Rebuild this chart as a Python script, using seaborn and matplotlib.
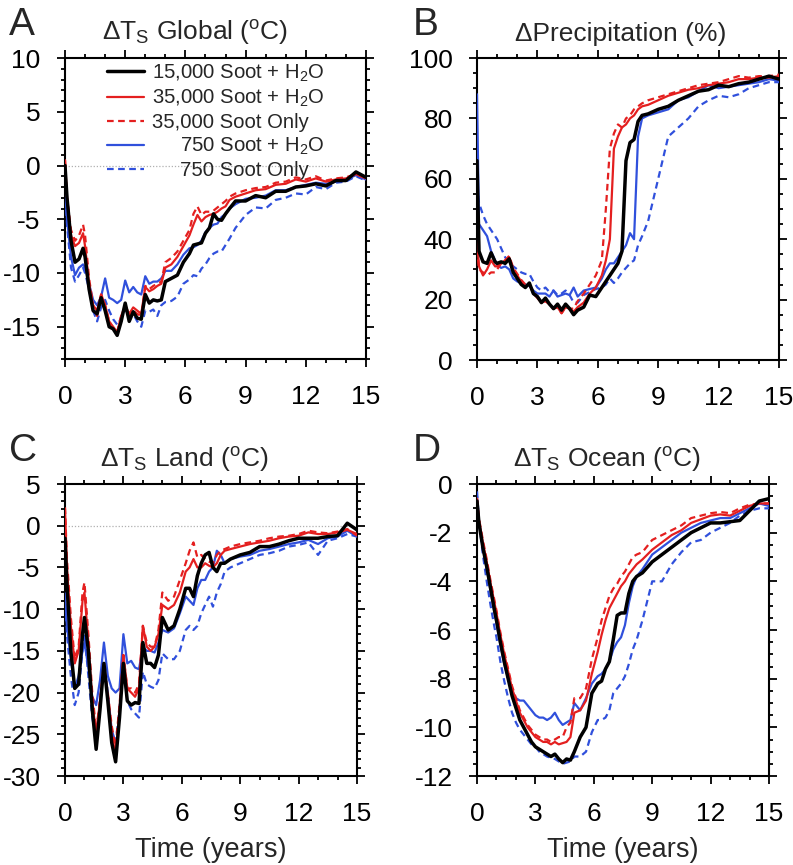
import matplotlib
matplotlib.use("Agg")
import matplotlib.pyplot as plt
import seaborn as sns
from matplotlib.ticker import MultipleLocator

# ---------------- data ----------------
years = [0, 0.1, 0.3, 0.5, 0.7, 0.9, 1.0,
         1.2, 1.4, 1.6, 1.8, 2.0, 2.2, 2.4, 2.6, 2.8,
         3.0, 3.2, 3.4, 3.6, 3.8, 4.0, 4.2, 4.4, 4.6, 4.8,
         5.0, 5.3, 5.6, 5.9,
         6.2, 6.4, 6.6, 6.8, 7.0, 7.2, 7.4, 7.6, 7.8, 8.0, 8.2, 8.5,
         9.0, 9.5, 10.0, 10.5, 11.0, 11.5, 12.0, 12.5, 13.0, 13.5, 14.0, 14.5, 15.0]

run_labels = ["15,000 Soot + H$_2$O", "35,000 Soot + H$_2$O", "35,000 Soot Only",
              "\u2007\u2007\u2008750 Soot + H$_2$O", "\u2007\u2007\u2008750 Soot Only"]

# Panel A: global surface temperature change (deg C)
glob_15k = [0.0, -3.0, -7.0, -9.0, -8.7, -7.7, -8.5,
            -11.5, -13.5, -13.8, -12.3, -13.5, -15.0, -15.2, -15.8, -14.5,
            -12.8, -14.5, -13.6, -14.2, -14.3, -12.0, -12.8, -12.5, -12.6, -12.5,
            -10.8, -10.5, -10.2, -9.0,
            -8.2, -7.4, -7.3, -7.2, -6.3, -5.8, -4.5, -5.0, -5.1, -4.5, -4.0, -3.3,
            -3.3, -2.8, -3.0, -2.4, -2.4, -2.0, -1.9, -1.7, -1.9, -1.4, -1.4, -0.6, -1.1]
glob_35k = [0.5, -3.0, -6.5, -7.5, -7.2, -6.3, -7.5,
            -11.0, -13.0, -13.5, -12.0, -13.0, -14.5, -15.0, -15.5, -14.0,
            -13.0, -13.8, -13.2, -13.5, -13.8, -11.3, -11.7, -11.5, -11.2, -11.0,
            -9.5, -9.2, -8.5, -7.5,
            -6.5, -5.5, -4.6, -5.2, -4.8, -4.6, -4.5, -4.3, -4.0, -3.8, -3.2, -2.9,
            -2.6, -2.3, -2.2, -1.8, -1.7, -1.3, -1.5, -1.2, -1.5, -1.3, -1.2, -0.8, -1.2]
glob_35k_only = [0.5, -3.0, -6.0, -7.0, -6.5, -5.5, -6.5,
                 -10.5, -13.0, -14.0, -12.0, -13.0, -14.5, -15.2, -15.5, -14.0,
                 -13.2, -14.0, -13.5, -13.8, -14.0, -11.2, -11.5, -11.2, -11.0, -10.8,
                 -9.0, -8.6, -8.0, -7.0,
                 -6.0, -4.5, -3.8, -4.6, -4.3, -4.3, -4.2, -3.9, -3.6, -3.3, -2.9, -2.6,
                 -2.3, -2.1, -2.0, -1.6, -1.5, -1.1, -1.3, -1.0, -1.4, -1.2, -1.1, -0.8, -1.2]
glob_750 = [-2.0, -5.0, -8.5, -10.2, -9.5, -9.2, -9.5,
            -11.0, -12.5, -13.0, -12.2, -10.5, -12.3, -12.5, -12.8, -12.5,
            -10.7, -11.8, -11.3, -11.8, -12.0, -10.3, -11.0, -10.8, -10.8, -10.5,
            -9.8, -9.8, -9.2, -8.3,
            -7.7, -7.6, -7.4, -7.0, -6.2, -5.8, -5.5, -5.4, -4.8, -4.5, -4.0, -3.6,
            -3.1, -3.0, -2.8, -2.3, -2.3, -2.0, -1.8, -1.6, -1.7, -1.5, -1.3, -0.9, -1.3]
glob_750_only = [-2.0, -5.5, -9.5, -10.8, -10.2, -9.5, -10.0,
                 -11.5, -13.5, -14.5, -13.2, -12.5, -13.5, -14.3, -14.8, -14.2,
                 -13.3, -14.2, -13.8, -14.5, -15.0, -13.5, -13.6, -13.4, -14.0, -13.0,
                 -12.7, -12.6, -12.2, -11.0,
                 -10.6, -10.2, -10.3, -9.6, -9.2, -8.6, -8.2, -8.0, -8.0, -7.4, -6.8, -5.8,
                 -4.6, -3.9, -4.0, -3.2, -3.0, -2.6, -2.7, -2.0, -2.2, -1.6, -1.5, -1.0, -1.4]

# Panel B: precipitation change (%)
prec_15k = [66, 36, 32.5, 32, 35.5, 32.5, 32,
            32.5, 32, 33.5, 29, 27, 25, 24, 25.5, 22,
            21, 19, 20.5, 18.5, 17, 18.5, 16.5, 18.5, 17, 15,
            16.5, 17.5, 21.5, 21,
            24, 26, 28, 30, 32, 36, 66, 72, 73, 79, 81, 81.5,
            83, 84, 86, 87.5, 89, 89.5, 91, 90.5, 91.5, 92, 93, 94, 93]
prec_35k = [40, 31, 28, 30, 33, 31, 31,
            32, 33, 34, 30, 28, 26, 24.5, 25, 22,
            20.5, 19, 19.5, 18.5, 17, 17.5, 15.5, 17.5, 17, 16,
            17.5, 19, 22, 24,
            28, 33, 40, 70, 74, 77, 78, 80, 81, 83, 84, 84.5,
            86, 87.5, 88.5, 89.5, 90, 91, 91.5, 92, 93, 93, 93.5, 93.5, 94]
prec_35k_only = [37, 30, 29, 28, 29, 29, 30,
                 32, 33, 34.5, 30.5, 28.5, 26.5, 25, 25, 22.5,
                 21, 19.5, 19.5, 18.5, 17, 17.5, 15.5, 17.5, 17, 17,
                 19.5, 22, 25, 28,
                 33, 50, 70, 75, 78, 77, 80, 81, 83, 84, 85, 86,
                 87, 88, 89, 90, 91, 91.5, 92, 93, 94, 93.5, 94, 94, 94.5]
prec_750 = [88, 45, 43, 41, 36, 33, 31.5,
            30.5, 31, 30, 27, 26, 25.5, 25, 24.5, 23,
            22, 22, 22, 21, 23, 21, 21.5, 22, 21.5, 24,
            21, 23, 23.5, 24,
            27, 30, 32, 32, 34, 36, 38, 42, 40, 74, 80, 81,
            82, 83, 86, 87, 89, 91, 90, 90.5, 91, 91.5, 92, 93, 92.5]
prec_750_only = [58, 52, 48, 45, 43, 41, 40,
                 37, 34, 32, 31, 30, 29, 28.5, 28.5, 26,
                 24, 23, 24, 22.5, 23, 21.5, 22, 23, 21.5, 19,
                 19, 21.5, 22.5, 23.5,
                 24, 25, 27, 25.5, 27, 29, 30.5, 32, 33, 38, 41, 46,
                 60, 74, 77, 80, 84, 86, 87.5, 87, 88, 90, 91, 92, 92]

# Panel C: land surface temperature change (deg C)
land_15k = [-1.5, -7, -15, -19.5, -19, -13, -11,
            -15, -22, -26.8, -22, -16.5, -21, -26, -28.3, -23,
            -16.5, -21, -21.5, -21.2, -21.3, -14, -16.5, -16.5, -17, -15.5,
            -11, -12.5, -12, -10,
            -7.5, -7.5, -8.5, -6, -4.5, -3.5, -3.2, -5, -5.5, -4.5, -4.5, -4,
            -3.5, -3.2, -2.5, -2.5, -2.2, -1.8, -1.5, -1.5, -1.5, -1.3, -1.2, 0.3, -0.5]
land_35k = [2, -5, -12, -16.5, -15, -9, -8,
            -14, -21, -25, -21, -16.5, -20.5, -25, -27.5, -22,
            -15.5, -19.5, -20, -20.5, -19.5, -12, -14.5, -15, -14.5, -13,
            -9.5, -10, -9.5, -8,
            -5.5, -5, -4, -5, -5, -4.5, -4.8, -5, -4.5, -3.5, -3, -2.8,
            -2.5, -2.2, -2, -1.8, -1.5, -1.3, -1.2, -0.8, -1.0, -1.0, -0.8, -0.5, -1.0]
land_35k_only = [2.2, -4, -11, -16, -14.5, -8, -6.8,
                 -13, -20, -24.5, -21, -17, -20, -24, -26.5, -21.5,
                 -15.5, -19.5, -19.5, -20, -19, -12, -14, -14.5, -14.5, -12.5,
                 -8, -9, -8.5, -6.5,
                 -4.5, -3, -2, -3.8, -3.5, -4, -4.3, -4.5, -3.5, -3, -2.8, -2.5,
                 -2.2, -2, -1.8, -1.5, -1.3, -1.2, -1.0, -0.6, -0.8, -0.9, -0.7, -0.4, -1.2]
land_750 = [-8.5, -12, -16, -19.5, -18, -15, -14,
            -17, -20.5, -21.5, -18.5, -14, -18, -19.5, -20, -19.5,
            -13, -16.5, -16.2, -17, -17.2, -14.5, -15, -15, -15.2, -14,
            -12.5, -12.8, -12.3, -10.5,
            -8.5, -9, -9.5, -7.5, -6.5, -6.5, -5.5, -5, -3, -3.5, -4.5, -4,
            -3.7, -3.5, -3, -2.8, -2.5, -2.2, -2, -1.7, -2.2, -1.5, -1.3, -0.6, -1.3]
land_750_only = [-8, -13, -18, -21.5, -20, -15, -13,
                 -18, -23, -25.5, -21, -16.5, -20, -24.5, -26, -22,
                 -16.5, -21, -22, -22.5, -23, -17.5, -19, -19.3, -19.5, -18.5,
                 -15.3, -16, -16, -15,
                 -12.5, -12, -12.5, -12, -10.5, -9.5, -8.5, -9.7, -8, -7, -5.5, -5,
                 -4.5, -4, -3.5, -3.3, -3, -2.5, -2.3, -2, -3.5, -1.8, -1.5, -1, -1.3]

# Panel D: ocean surface temperature change (deg C)
ocean_15k = [-0.7, -1.6, -2.6, -3.4, -4.3, -5.2, -5.6,
             -6.5, -7.3, -8.0, -8.7, -9.2, -9.7, -10.0, -10.3, -10.6,
             -10.8, -10.9, -11.0, -11.1, -11.2, -11.1, -11.3, -11.45, -11.3, -11.35,
             -11.0, -10.4, -10.0, -8.6,
             -8.2, -8.1, -7.6, -7.3, -6.4, -5.4, -5.3, -5.3, -4.5, -4.0, -3.8, -3.65,
             -3.2, -2.9, -2.6, -2.3, -2.0, -1.8, -1.6, -1.6, -1.55, -1.5, -1.1, -0.7, -0.6]
ocean_35k = [-0.6, -1.5, -2.4, -3.2, -4.1, -4.9, -5.3,
             -6.2, -7.0, -7.7, -8.4, -8.9, -9.4, -9.7, -10.0, -10.2,
             -10.4, -10.5, -10.6, -10.6, -10.7, -10.6, -10.7, -10.65, -10.6, -10.4,
             -9.4, -9.3, -8.9, -7.8,
             -6.9, -6.2, -5.6, -5.1, -4.8, -4.5, -4.2, -4.0, -3.7, -3.5, -3.3, -3.1,
             -2.7, -2.4, -2.1, -1.9, -1.6, -1.45, -1.3, -1.25, -1.3, -1.1, -0.9, -0.8, -0.8]
ocean_35k_only = [-0.6, -1.4, -2.3, -3.1, -4.0, -4.8, -5.2,
                  -6.1, -6.9, -7.6, -8.3, -8.8, -9.3, -9.6, -9.9, -10.1,
                  -10.3, -10.4, -10.5, -10.5, -10.6, -10.5, -10.4, -10.4, -10.0, -9.8,
                  -8.8, -8.8, -8.4, -7.2,
                  -6.3, -5.6, -5.1, -4.6, -4.3, -4.1, -3.8, -3.6, -3.3, -3.0, -2.9, -2.8,
                  -2.3, -2.1, -1.9, -1.7, -1.4, -1.3, -1.2, -1.15, -1.2, -1.0, -0.85, -0.8, -0.8]
ocean_750 = [-0.5, -1.5, -2.6, -3.5, -4.4, -5.3, -5.7,
             -6.6, -7.4, -8.0, -8.5, -8.8, -8.9, -8.9, -9.1, -9.3,
             -9.5, -9.6, -9.6, -9.7, -9.6, -9.4, -9.7, -9.9, -9.8, -9.7,
             -9.0, -9.3, -8.8, -8.2,
             -7.9, -7.8, -7.6, -7.3, -6.8, -6.5, -6.3, -5.8, -4.9, -4.2, -3.8, -3.5,
             -2.9, -2.6, -2.3, -2.0, -1.8, -1.6, -1.5, -1.4, -1.4, -1.2, -1.0, -0.8, -0.9]
ocean_750_only = [-0.3, -1.5, -2.9, -4.0, -5.0, -5.9, -6.3,
                  -7.3, -8.1, -8.8, -9.4, -9.8, -10.1, -10.3, -10.5, -10.7,
                  -10.8, -11.0, -11.1, -11.2, -11.25, -11.3, -11.4, -11.5, -11.45, -11.4,
                  -11.2, -11.2, -11.0, -10.2,
                  -9.7, -9.7, -9.6, -9.3, -8.6, -8.4, -8.2, -7.9, -7.4, -6.8, -6.4, -5.6,
                  -4.0, -4.0, -3.3, -2.8, -2.4, -2.3, -2.0, -1.8, -1.6, -1.3, -1.1, -1.0, -1.0]

panel_letters = ["A", "B", "C", "D"]
panel_titles = ["\u0394T$_{\\mathrm{S}}$ Global ($^{\\mathrm{o}}$C)",
                "\u0394Precipitation (%)",
                "\u0394T$_{\\mathrm{S}}$ Land ($^{\\mathrm{o}}$C)",
                "\u0394T$_{\\mathrm{S}}$ Ocean ($^{\\mathrm{o}}$C)"]
x_ticks = [0, 3, 6, 9, 12, 15]
panel_data = [
    [glob_15k, glob_35k, glob_35k_only, glob_750, glob_750_only],
    [prec_15k, prec_35k, prec_35k_only, prec_750, prec_750_only],
    [land_15k, land_35k, land_35k_only, land_750, land_750_only],
    [ocean_15k, ocean_35k, ocean_35k_only, ocean_750, ocean_750_only],
]
y_limits = [(-18, 10), (0, 100), (-30, 5), (-12, 0)]
y_major = [5, 20, 5, 2]
y_minor = [1, 5, 1, 0.5]

# ---------------- style ----------------
sns.set_theme(style="ticks")
plt.rcParams["font.family"] = ["Liberation Sans", "DejaVu Sans"]
plt.rcParams["mathtext.fontset"] = "custom"
plt.rcParams["mathtext.rm"] = "Liberation Sans"
plt.rcParams["mathtext.it"] = "Liberation Sans:italic"
plt.rcParams["mathtext.bf"] = "Liberation Sans:bold"
plt.rcParams["axes.unicode_minus"] = False

RED = "#e41f1f"
BLUE = "#3050dc"
colors = ["black", RED, RED, BLUE, BLUE]
widths = [2.5, 1.6, 1.6, 1.6, 1.6]
styles = ["-", "-", (0, (3, 2)), "-", (0, (3, 2))]
draw_order = [4, 3, 2, 1, 0]

W, H = 793, 865
fig = plt.figure(figsize=(W / 100, H / 100), dpi=100)

# axes boxes in pixels: left, top, right, bottom
boxes = [(65, 58, 366, 359), (477, 58, 779, 360), (65, 484, 357, 776), (477, 484, 769, 776)]
title_pos = [(102, 40), (515, 41), (100, 467), (513, 467)]
letter_pos = [(9, 35), (413, 35), (9, 461), (413, 461)]

axes = []
for i, (l, t, r, b) in enumerate(boxes):
    ax = fig.add_axes([l / W, 1 - b / H, (r - l) / W, (b - t) / H])
    axes.append(ax)
    if i in (0, 2):
        ax.axhline(0, color="#b0b0b0", lw=0.9, ls=(0, (1, 1.5)), zorder=1)
    handles = {}
    for k in draw_order:
        sns.lineplot(x=years, y=panel_data[i][k], ax=ax, color=colors[k],
                     linewidth=widths[k], linestyle=styles[k], label=run_labels[k],
                     legend=False, zorder=3 + (5 - k))
        handles[k] = ax.get_lines()[-1]
    ax.set_xlim(0, 15)
    ax.set_ylim(*y_limits[i])
    ax.set_xticks(x_ticks)
    ax.xaxis.set_minor_locator(MultipleLocator(1))
    ax.yaxis.set_major_locator(MultipleLocator(y_major[i]))
    ax.yaxis.set_minor_locator(MultipleLocator(y_minor[i]))
    ax.tick_params(which="both", direction="out", top=True, right=True,
                   width=1.3, colors="black", labelsize=19)
    ax.tick_params(which="major", length=5.5)
    ax.tick_params(which="minor", length=3)
    ax.tick_params(axis="x", which="major", pad=13)
    ax.tick_params(axis="y", which="major", pad=12)
    for s in ax.spines.values():
        s.set_linewidth(1.5)
        s.set_color("black")
    ax.set_xlabel("")
    ax.set_ylabel("")
    fig.text(title_pos[i][0] / W, 1 - title_pos[i][1] / H, panel_titles[i],
             fontsize=19, ha="left", va="baseline")
    fig.text(letter_pos[i][0] / W, 1 - letter_pos[i][1] / H, panel_letters[i],
             fontsize=28, ha="left", va="baseline")
    if i >= 2:
        ax.set_xlabel("Time (years)", fontsize=19.5, labelpad=8)
    if i == 0:
        leg = ax.legend([handles[k] for k in range(5)], run_labels,
                        loc="upper left", bbox_to_anchor=(0.14, 0.985),
                        frameon=False, fontsize=14.6, handlelength=1.8,
                        handletextpad=0.4, labelspacing=0.19,
                        borderpad=0, borderaxespad=0)

fig.savefig("out.png", dpi=100)
